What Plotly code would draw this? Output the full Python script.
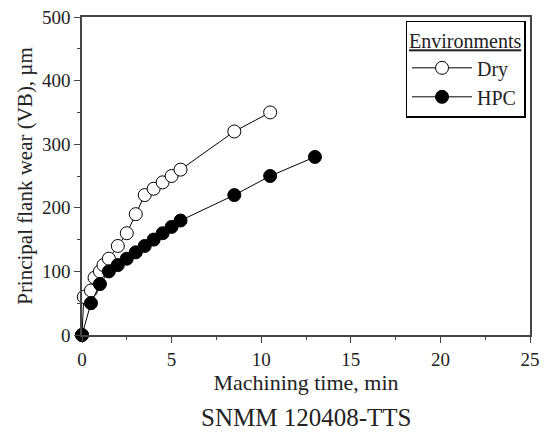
import plotly.graph_objects as go

# Dry machining
dry_time = [0, 0.1, 0.5, 0.7, 1.0, 1.2, 1.5, 2.0, 2.5, 3.0, 3.5, 4.0, 4.5, 5.0, 5.5, 8.5, 10.5]
dry_wear = [0, 60, 70, 90, 100, 110, 120, 140, 160, 190, 220, 230, 240, 250, 260, 320, 350]

# High pressure coolant
hpc_time = [0, 0.5, 1.0, 1.5, 2.0, 2.5, 3.0, 3.5, 4.0, 4.5, 5.0, 5.5, 8.5, 10.5, 13.0]
hpc_wear = [0, 50, 80, 100, 110, 120, 130, 140, 150, 160, 170, 180, 220, 250, 280]

FONT = "Liberation Serif"

fig = go.Figure()
fig.add_trace(go.Scatter(
    x=dry_time, y=dry_wear, name="Dry", mode="lines+markers",
    line=dict(color="black", width=1),
    marker=dict(symbol="circle", size=13, color="white",
                line=dict(color="black", width=1)),
    cliponaxis=False,
))
fig.add_trace(go.Scatter(
    x=hpc_time, y=hpc_wear, name="HPC", mode="lines+markers",
    line=dict(color="black", width=1),
    marker=dict(symbol="circle", size=13, color="black",
                line=dict(color="black", width=1)),
    cliponaxis=False,
))

axis_common = dict(
    showgrid=False, zeroline=False, showline=True, linecolor="#444",
    linewidth=1.5, mirror=True, ticks="outside", ticklen=6, tickwidth=1,
    tickcolor="#444", tickfont=dict(family=FONT, size=19, color="#222"),
    automargin=False, ticklabeloverflow="allow",
)

fig.update_xaxes(
    range=[0, 25], dtick=5,
    minor=dict(dtick=2.5, ticks="outside", ticklen=3, tickcolor="#444"),
    title=dict(text="Machining time, min", font=dict(family=FONT, size=22, color="#222"),
               standoff=2),
    **axis_common,
)
fig.update_yaxes(
    range=[0, 500], dtick=100,
    minor=dict(dtick=50, ticks="outside", ticklen=3, tickcolor="#444"),
    title=dict(text="Principal flank wear (VB), µm", font=dict(family=FONT, size=21, color="#222"),
               standoff=4),
    **axis_common,
)

fig.add_annotation(
    text="SNMM 120408-TTS", xref="paper", yref="paper", x=0.5, y=-0.21,
    xanchor="center", yanchor="top", showarrow=False,
    font=dict(family=FONT, size=25, color="#222"),
)

# page body adds an 8px offset, so the figure is drawn 8px smaller
fig.update_layout(
    width=540, height=430,
    margin=dict(l=74, r=18, t=9, b=103),
    paper_bgcolor="white", plot_bgcolor="white",
    font=dict(family=FONT, color="#222"),
    showlegend=True,
    legend=dict(
        title=dict(text="<u>Environments</u>", font=dict(family=FONT, size=20)),
        x=0.99, y=0.988, xanchor="right", yanchor="top",
        bgcolor="white", bordercolor="black", borderwidth=1.5,
        font=dict(family=FONT, size=20), itemwidth=60, entrywidth=95,
        tracegroupgap=0,
    ),
)

fig.write_html("out.html")
